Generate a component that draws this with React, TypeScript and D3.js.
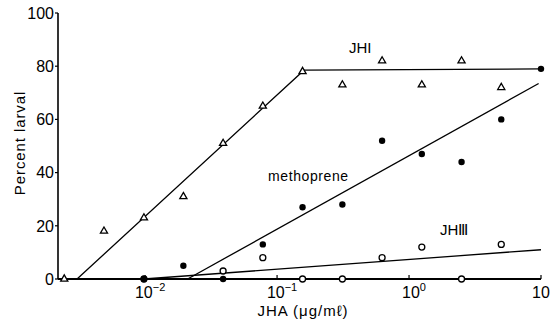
import React from 'react';
import * as d3 from 'd3';

const W = 557;
const H = 322;
const FONT = '"Liberation Sans", Arial, Helvetica, sans-serif';

// concentrations (ug/ml), two-fold dilutions from 10
const conc = [0.00244, 0.00488, 0.0098, 0.0195, 0.039, 0.078, 0.156, 0.3125, 0.625, 1.25, 2.5, 5, 10];

// percent larval, null = not plotted
const jhI = [0, 18, 23, 31, 51, 65, 78, 73, 82, 73, 82, 72, null];
const methoprene = [null, null, 0, 5, 0, 13, 27, 28, 52, 47, 44, 60, 79];
const jhIII = [null, null, 0, null, 3, 8, 0, 0, 8, 12, 0, 13, null];

// fitted lines [conc, percent]
const jhILine: [number, number][] = [[0.00305, 0], [0.16, 78.5], [10, 79]];
const methopreneLine: [number, number][] = [[0.021, 0], [9.6, 73.5]];
const jhIIILine: [number, number][] = [[0.0098, 0], [10, 11]];

const yTicks = [0, 20, 40, 60, 80, 100];
const xTicks = [0.01, 0.1, 1, 10];
const xTickBase = ['10', '10', '10', '10'];
const xTickExp = ['−2', '−1', '0', ''];

const x = d3.scaleLog().domain([Math.pow(10, -2.66), 10]).range([58, 541]);
const y = d3.scaleLinear().domain([0, 100]).range([279, 13]);

const line = d3.line<[number, number]>()
  .x(d => x(d[0]))
  .y(d => y(d[1]));

const tri = d3.symbol().type(d3.symbolTriangle).size(22)();

const pts = (vals: (number | null)[]) =>
  vals.map((v, i) => ({ c: conc[i], v })).filter(d => d.v !== null) as { c: number; v: number }[];

const App: React.FC = () => {
  return (
    <svg width={W} height={H} style={{ position: 'absolute', left: 0, top: 0, background: '#fff' }}
      fontFamily={FONT}>
      {/* axes */}
      <line x1={x.range()[0]} x2={x.range()[0]} y1={y(0)} y2={y(100)} stroke="#000" strokeWidth={1.6} />
      <line x1={x.range()[0]} x2={x.range()[1]} y1={y(0)} y2={y(0)} stroke="#000" strokeWidth={1.8} />
      {yTicks.map(t => (
        <g key={t}>
          <line x1={x.range()[0] - 3} x2={x.range()[0]} y1={y(t)} y2={y(t)} stroke="#000" strokeWidth={1.2} />
          <text x={x.range()[0] - 4} y={y(t)} dy="0.36em" textAnchor="end" fontSize={16}>{t}</text>
        </g>
      ))}
      {xTicks.map((t, i) => (
        <g key={t}>
          <line x1={x(t)} x2={x(t)} y1={y(0)} y2={y(0) - 4} stroke="#000" strokeWidth={1.2} />
          <text x={x(t) + (xTickExp[i] ? 5 : 0)} y={y(0) + 19} textAnchor="middle" fontSize={16}>
            {xTickBase[i]}
            {xTickExp[i] && <tspan fontSize={11} dy={-7}>{xTickExp[i]}</tspan>}
          </text>
        </g>
      ))}

      {/* fitted lines */}
      <path d={line(jhILine) ?? ''} fill="none" stroke="#000" strokeWidth={1.3} />
      <path d={line(methopreneLine) ?? ''} fill="none" stroke="#000" strokeWidth={1.3} />
      <path d={line(jhIIILine) ?? ''} fill="none" stroke="#000" strokeWidth={1.3} />

      {/* JH I triangles */}
      {pts(jhI).map((d, i) => (
        <path key={'t' + i} d={tri} transform={`translate(${x(d.c)},${y(d.v)})`}
          fill="#fff" stroke="#000" strokeWidth={1.3} />
      ))}
      {/* JH III open circles */}
      {pts(jhIII).map((d, i) => (
        <circle key={'o' + i} cx={x(d.c)} cy={y(d.v)} r={3} fill="#fff" stroke="#000" strokeWidth={1.3} />
      ))}
      {/* methoprene filled circles */}
      {pts(methoprene).map((d, i) => (
        <circle key={'m' + i} cx={x(d.c)} cy={y(d.v)} r={3.2} fill="#000" />
      ))}

      {/* labels */}
      <text x={349} y={53} fontSize={15}>JHI</text>
      <text x={268} y={181} fontSize={14} letterSpacing={0.6}>methoprene</text>
      <text x={440} y={235} fontSize={15}>JHⅢ</text>

      <text transform={`translate(25,${143}) rotate(-90)`} textAnchor="middle" fontSize={15} letterSpacing={0.9}>Percent larval</text>
      <text x={303} y={316} textAnchor="middle" fontSize={15} letterSpacing={1}>JHA  (μg/mℓ)</text>
    </svg>
  );
};

export default App;
